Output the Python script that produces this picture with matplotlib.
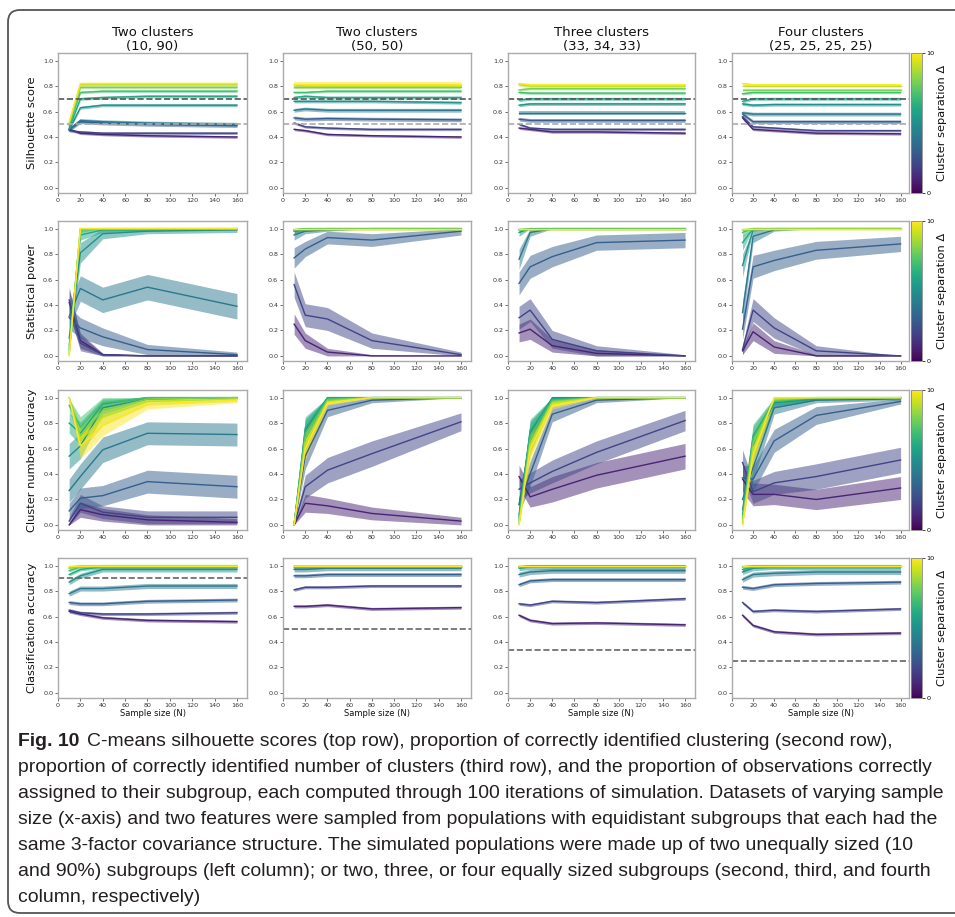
import numpy as np
import matplotlib
matplotlib.use("Agg")
import matplotlib.pyplot as plt
from matplotlib.colors import Normalize
from matplotlib.cm import ScalarMappable
from matplotlib.patches import FancyBboxPatch
from matplotlib.transforms import IdentityTransform
import matplotlib.font_manager as fm

# ---------------------------------------------------------------- data
sample_sizes = [10, 20, 40, 80, 160]
separations = [1, 2, 3, 4, 5, 6, 7, 8, 9, 10]
col_titles = ["Two clusters\n(10, 90)", "Two clusters\n(50, 50)",
              "Three clusters\n(33, 34, 33)", "Four clusters\n(25, 25, 25, 25)"]
row_labels = ["Silhouette score", "Statistical power",
              "Cluster number accuracy", "Classification accuracy"]
x_ticks = [0, 20, 40, 60, 80, 100, 120, 140, 160]
y_ticks = [0.0, 0.2, 0.4, 0.6, 0.8, 1.0]
silhouette_refs = [0.7, 0.5]
chance_levels = [0.9, 0.5, 0.34, 0.25]

# Silhouette score (rows = separation 1..10, cols = sample sizes)
sil_10_90 = [[0.46, 0.43, 0.42, 0.41, 0.40], [0.45, 0.44, 0.43, 0.43, 0.43],
             [0.46, 0.52, 0.51, 0.50, 0.49], [0.46, 0.53, 0.52, 0.51, 0.50],
             [0.46, 0.63, 0.65, 0.65, 0.65], [0.47, 0.70, 0.71, 0.72, 0.72],
             [0.49, 0.75, 0.76, 0.76, 0.76], [0.50, 0.79, 0.79, 0.79, 0.79],
             [0.51, 0.81, 0.81, 0.81, 0.81], [0.52, 0.82, 0.82, 0.82, 0.82]]
sil_50_50 = [[0.46, 0.45, 0.42, 0.41, 0.40], [0.51, 0.48, 0.47, 0.46, 0.46],
             [0.55, 0.54, 0.545, 0.54, 0.535], [0.61, 0.62, 0.61, 0.61, 0.61],
             [0.68, 0.68, 0.68, 0.68, 0.67], [0.71, 0.72, 0.71, 0.71, 0.71],
             [0.75, 0.75, 0.76, 0.76, 0.76], [0.79, 0.79, 0.79, 0.79, 0.79],
             [0.81, 0.80, 0.80, 0.80, 0.80], [0.82, 0.82, 0.82, 0.82, 0.82]]
sil_3 = [[0.47, 0.46, 0.44, 0.44, 0.43], [0.50, 0.47, 0.46, 0.46, 0.46],
         [0.54, 0.53, 0.53, 0.53, 0.53], [0.59, 0.59, 0.59, 0.59, 0.59],
         [0.65, 0.66, 0.66, 0.66, 0.66], [0.69, 0.70, 0.70, 0.70, 0.70],
         [0.75, 0.745, 0.745, 0.745, 0.745], [0.77, 0.78, 0.78, 0.78, 0.78],
         [0.81, 0.80, 0.80, 0.80, 0.80], [0.82, 0.81, 0.81, 0.81, 0.81]]
sil_4 = [[0.55, 0.46, 0.45, 0.43, 0.425], [0.56, 0.48, 0.47, 0.45, 0.45],
         [0.58, 0.52, 0.52, 0.52, 0.52], [0.59, 0.58, 0.58, 0.58, 0.58],
         [0.66, 0.65, 0.655, 0.655, 0.655], [0.68, 0.70, 0.70, 0.70, 0.70],
         [0.74, 0.75, 0.75, 0.75, 0.75], [0.77, 0.77, 0.77, 0.77, 0.77],
         [0.80, 0.80, 0.80, 0.80, 0.80], [0.82, 0.81, 0.81, 0.81, 0.81]]
sil_ci = [0.01, 0.01, 0.015, 0.015, 0.012, 0.012, 0.01, 0.01, 0.01, 0.01]

# Statistical power
pow_10_90 = [[0.42, 0.12, 0.01, 0.0, 0.0], [0.44, 0.10, 0.01, 0.0, 0.0],
             [0.30, 0.22, 0.15, 0.05, 0.01], [0.31, 0.53, 0.44, 0.54, 0.39],
             [0.14, 0.81, 0.96, 0.98, 0.99], [0.08, 0.95, 0.99, 0.99, 1.0],
             [0.05, 0.99, 1.0, 1.0, 1.0], [0.03, 1.0, 1.0, 1.0, 1.0],
             [0.01, 1.0, 1.0, 1.0, 1.0], [0.0, 1.0, 1.0, 1.0, 1.0]]
pow_10_90_ci = [[0.10, 0.06, 0.01, 0.0, 0.0], [0.10, 0.06, 0.01, 0.0, 0.0],
                [0.09, 0.08, 0.07, 0.04, 0.02], [0.09, 0.10, 0.10, 0.10, 0.10],
                [0.07, 0.08, 0.04, 0.02, 0.02], [0.05, 0.04, 0.02, 0.01, 0.0],
                [0.04, 0.02, 0.0, 0.0, 0.0], [0.03, 0.0, 0.0, 0.0, 0.0],
                [0.02, 0.0, 0.0, 0.0, 0.0], [0.0, 0.0, 0.0, 0.0, 0.0]]
pow_50_50 = [[0.25, 0.12, 0.03, 0.0, 0.0], [0.56, 0.32, 0.29, 0.12, 0.01],
             [0.77, 0.84, 0.93, 0.91, 0.98], [0.95, 0.98, 0.99, 1.0, 1.0],
             [0.98, 0.99, 1.0, 1.0, 1.0], [0.99, 1.0, 1.0, 1.0, 1.0],
             [0.99, 1.0, 1.0, 1.0, 1.0], [1.0, 1.0, 1.0, 1.0, 1.0],
             [1.0, 1.0, 1.0, 1.0, 1.0], [1.0, 1.0, 1.0, 1.0, 1.0]]
pow_50_50_ci = [[0.08, 0.06, 0.03, 0.01, 0.0], [0.10, 0.09, 0.09, 0.06, 0.02],
                [0.08, 0.06, 0.05, 0.05, 0.03], [0.04, 0.02, 0.01, 0.0, 0.0],
                [0.02, 0.01, 0.0, 0.0, 0.0], [0.01, 0.0, 0.0, 0.0, 0.0],
                [0.01, 0.0, 0.0, 0.0, 0.0], [0.0, 0.0, 0.0, 0.0, 0.0],
                [0.0, 0.0, 0.0, 0.0, 0.0], [0.0, 0.0, 0.0, 0.0, 0.0]]
pow_3 = [[0.18, 0.21, 0.08, 0.02, 0.0], [0.30, 0.36, 0.13, 0.04, 0.0],
         [0.57, 0.70, 0.78, 0.89, 0.91], [0.76, 0.97, 1.0, 1.0, 1.0],
         [0.97, 1.0, 1.0, 1.0, 1.0], [0.99, 1.0, 1.0, 1.0, 1.0],
         [1.0, 1.0, 1.0, 1.0, 1.0], [1.0, 1.0, 1.0, 1.0, 1.0],
         [1.0, 1.0, 1.0, 1.0, 1.0], [1.0, 1.0, 1.0, 1.0, 1.0]]
pow_3_ci = [[0.07, 0.08, 0.05, 0.03, 0.0], [0.09, 0.09, 0.07, 0.04, 0.01],
            [0.09, 0.09, 0.08, 0.06, 0.06], [0.08, 0.03, 0.0, 0.0, 0.0],
            [0.03, 0.0, 0.0, 0.0, 0.0], [0.01, 0.0, 0.0, 0.0, 0.0],
            [0.0, 0.0, 0.0, 0.0, 0.0], [0.0, 0.0, 0.0, 0.0, 0.0],
            [0.0, 0.0, 0.0, 0.0, 0.0], [0.0, 0.0, 0.0, 0.0, 0.0]]
pow_4 = [[0.04, 0.19, 0.07, 0.0, 0.0], [0.05, 0.36, 0.22, 0.04, 0.0],
         [0.21, 0.70, 0.75, 0.83, 0.88], [0.34, 0.94, 0.99, 1.0, 1.0],
         [0.71, 0.99, 1.0, 1.0, 1.0], [0.89, 1.0, 1.0, 1.0, 1.0],
         [0.97, 1.0, 1.0, 1.0, 1.0], [0.99, 1.0, 1.0, 1.0, 1.0],
         [1.0, 1.0, 1.0, 1.0, 1.0], [1.0, 1.0, 1.0, 1.0, 1.0]]
pow_4_ci = [[0.03, 0.07, 0.05, 0.01, 0.0], [0.04, 0.09, 0.08, 0.04, 0.0],
            [0.08, 0.09, 0.08, 0.07, 0.06], [0.09, 0.05, 0.01, 0.0, 0.0],
            [0.09, 0.01, 0.0, 0.0, 0.0], [0.06, 0.0, 0.0, 0.0, 0.0],
            [0.03, 0.0, 0.0, 0.0, 0.0], [0.01, 0.0, 0.0, 0.0, 0.0],
            [0.0, 0.0, 0.0, 0.0, 0.0], [0.0, 0.0, 0.0, 0.0, 0.0]]

# Cluster number accuracy
cna_10_90 = [[0.0, 0.12, 0.08, 0.04, 0.02], [0.03, 0.17, 0.10, 0.06, 0.06],
             [0.11, 0.21, 0.23, 0.34, 0.30], [0.27, 0.38, 0.59, 0.72, 0.71],
             [0.54, 0.62, 0.92, 0.99, 1.0], [0.80, 0.72, 0.95, 1.0, 1.0],
             [0.94, 0.77, 0.96, 1.0, 1.0], [1.0, 0.70, 0.90, 0.99, 1.0],
             [1.0, 0.66, 0.85, 0.97, 0.99], [1.0, 0.62, 0.78, 0.95, 0.98]]
cna_10_90_ci = [[0.01, 0.06, 0.05, 0.04, 0.03], [0.03, 0.07, 0.05, 0.05, 0.05],
                [0.06, 0.08, 0.08, 0.09, 0.09], [0.09, 0.10, 0.10, 0.09, 0.09],
                [0.10, 0.10, 0.05, 0.01, 0.0], [0.08, 0.09, 0.04, 0.01, 0.0],
                [0.05, 0.08, 0.04, 0.01, 0.0], [0.0, 0.09, 0.06, 0.02, 0.01],
                [0.0, 0.09, 0.07, 0.03, 0.02], [0.0, 0.10, 0.08, 0.04, 0.02]]
cna_50_50 = [[0.0, 0.17, 0.15, 0.09, 0.03], [0.0, 0.30, 0.43, 0.56, 0.81],
             [0.0, 0.54, 0.90, 0.98, 1.0], [0.0, 0.68, 0.98, 1.0, 1.0],
             [0.0, 0.74, 1.0, 1.0, 1.0], [0.0, 0.76, 1.0, 1.0, 1.0],
             [0.0, 0.72, 0.99, 1.0, 1.0], [0.0, 0.68, 0.98, 1.0, 1.0],
             [0.0, 0.64, 0.97, 1.0, 1.0], [0.0, 0.60, 0.96, 1.0, 1.0]]
cna_50_50_ci = [[0.0, 0.07, 0.06, 0.05, 0.03], [0.0, 0.09, 0.10, 0.10, 0.07],
                [0.0, 0.10, 0.05, 0.02, 0.0], [0.0, 0.09, 0.02, 0.0, 0.0],
                [0.0, 0.09, 0.01, 0.0, 0.0], [0.0, 0.09, 0.02, 0.0, 0.0],
                [0.0, 0.09, 0.02, 0.0, 0.0], [0.0, 0.09, 0.02, 0.0, 0.0],
                [0.0, 0.09, 0.02, 0.0, 0.0], [0.0, 0.09, 0.02, 0.0, 0.0]]
cna_3 = [[0.38, 0.22, 0.28, 0.39, 0.54], [0.28, 0.33, 0.42, 0.57, 0.82],
         [0.16, 0.40, 0.87, 0.98, 1.0], [0.16, 0.66, 0.99, 1.0, 1.0],
         [0.08, 0.72, 1.0, 1.0, 1.0], [0.06, 0.74, 0.99, 1.0, 1.0],
         [0.04, 0.70, 0.98, 1.0, 1.0], [0.02, 0.66, 0.97, 1.0, 1.0],
         [0.01, 0.63, 0.96, 1.0, 1.0], [0.0, 0.60, 0.94, 1.0, 1.0]]
cna_3_ci = [[0.09, 0.08, 0.10, 0.10, 0.10], [0.08, 0.08, 0.09, 0.09, 0.08],
            [0.06, 0.10, 0.06, 0.02, 0.0], [0.06, 0.09, 0.01, 0.0, 0.0],
            [0.05, 0.09, 0.01, 0.0, 0.0], [0.03, 0.09, 0.03, 0.0, 0.0],
            [0.03, 0.09, 0.03, 0.0, 0.0], [0.02, 0.09, 0.03, 0.0, 0.0],
            [0.01, 0.09, 0.03, 0.0, 0.0], [0.0, 0.09, 0.03, 0.0, 0.0]]
cna_4 = [[0.36, 0.24, 0.24, 0.20, 0.29], [0.49, 0.26, 0.33, 0.38, 0.51],
         [0.37, 0.36, 0.66, 0.86, 0.97], [0.20, 0.45, 0.92, 0.98, 0.99],
         [0.12, 0.62, 0.96, 0.99, 1.0], [0.08, 0.70, 0.97, 0.99, 1.0],
         [0.05, 0.68, 0.97, 1.0, 1.0], [0.02, 0.64, 0.98, 1.0, 1.0],
         [0.01, 0.60, 0.99, 1.0, 1.0], [0.0, 0.55, 1.0, 1.0, 1.0]]
cna_4_ci = [[0.10, 0.09, 0.08, 0.08, 0.09], [0.10, 0.09, 0.09, 0.10, 0.10],
            [0.10, 0.10, 0.09, 0.07, 0.02], [0.08, 0.10, 0.05, 0.02, 0.01],
            [0.06, 0.10, 0.04, 0.01, 0.0], [0.05, 0.09, 0.03, 0.01, 0.0],
            [0.03, 0.09, 0.02, 0.0, 0.0], [0.02, 0.09, 0.02, 0.0, 0.0],
            [0.01, 0.09, 0.02, 0.0, 0.0], [0.0, 0.09, 0.02, 0.0, 0.0]]

# Classification accuracy
cla_10_90 = [[0.64, 0.62, 0.59, 0.57, 0.56], [0.65, 0.63, 0.62, 0.62, 0.63],
             [0.71, 0.70, 0.70, 0.72, 0.73], [0.78, 0.82, 0.82, 0.84, 0.84],
             [0.87, 0.92, 0.97, 0.97, 0.97], [0.93, 0.97, 0.99, 0.99, 0.99],
             [0.96, 0.99, 0.99, 0.99, 0.99], [0.98, 0.99, 1.0, 1.0, 1.0],
             [0.99, 1.0, 1.0, 1.0, 1.0], [1.0, 1.0, 1.0, 1.0, 1.0]]
cla_50_50 = [[0.68, 0.68, 0.69, 0.66, 0.67], [0.81, 0.83, 0.83, 0.84, 0.84],
             [0.92, 0.92, 0.93, 0.93, 0.93], [0.97, 0.97, 0.98, 0.98, 0.98],
             [0.99, 0.99, 0.99, 0.99, 0.99], [1.0, 1.0, 1.0, 1.0, 1.0],
             [1.0, 1.0, 1.0, 1.0, 1.0], [1.0, 1.0, 1.0, 1.0, 1.0],
             [1.0, 1.0, 1.0, 1.0, 1.0], [1.0, 1.0, 1.0, 1.0, 1.0]]
cla_3 = [[0.61, 0.57, 0.545, 0.55, 0.535], [0.70, 0.69, 0.72, 0.71, 0.74],
         [0.85, 0.88, 0.89, 0.89, 0.89], [0.93, 0.95, 0.96, 0.96, 0.96],
         [0.98, 0.99, 0.99, 0.99, 0.99], [0.99, 1.0, 1.0, 1.0, 1.0],
         [1.0, 1.0, 1.0, 1.0, 1.0], [1.0, 1.0, 1.0, 1.0, 1.0],
         [1.0, 1.0, 1.0, 1.0, 1.0], [1.0, 1.0, 1.0, 1.0, 1.0]]
cla_4 = [[0.61, 0.53, 0.48, 0.46, 0.47], [0.71, 0.64, 0.65, 0.64, 0.66],
         [0.83, 0.82, 0.85, 0.86, 0.87], [0.89, 0.93, 0.94, 0.95, 0.95],
         [0.95, 0.98, 0.99, 0.99, 0.99], [0.97, 0.99, 0.99, 0.99, 0.99],
         [0.99, 1.0, 1.0, 1.0, 1.0], [1.0, 1.0, 1.0, 1.0, 1.0],
         [1.0, 1.0, 1.0, 1.0, 1.0], [1.0, 1.0, 1.0, 1.0, 1.0]]
cla_ci = [0.012, 0.012, 0.015, 0.02, 0.02, 0.012, 0.01, 0.008, 0.005, 0.003]

caption_bold = "Fig. 10"
caption_lines = [
    "C-means silhouette scores (top row), proportion of correctly identified clustering (second row),",
    "proportion of correctly identified number of clusters (third row), and the proportion of observations correctly",
    "assigned to their subgroup, each computed through 100 iterations of simulation. Datasets of varying sample",
    "size (x-axis) and two features were sampled from populations with equidistant subgroups that each had the",
    "same 3-factor covariance structure. The simulated populations were made up of two unequally sized (10",
    "and 90%) subgroups (left column); or two, three, or four equally sized subgroups (second, third, and fourth",
    "column, respectively)",
]

panels = [
    [(sil_10_90, sil_ci), (sil_50_50, sil_ci), (sil_3, sil_ci), (sil_4, sil_ci)],
    [(pow_10_90, pow_10_90_ci), (pow_50_50, pow_50_50_ci), (pow_3, pow_3_ci), (pow_4, pow_4_ci)],
    [(cna_10_90, cna_10_90_ci), (cna_50_50, cna_50_50_ci), (cna_3, cna_3_ci), (cna_4, cna_4_ci)],
    [(cla_10_90, cla_ci), (cla_50_50, cla_ci), (cla_3, cla_ci), (cla_4, cla_ci)],
]

# ---------------------------------------------------------------- layout (pixels)
W, H = 955, 917
col_px = [(58, 247), (283, 471), (508, 695), (732, 909)]
row_px = [(53, 193), (221, 361), (390, 530), (558, 698)]
cbar_px = (911, 922)

fig = plt.figure(figsize=(W / 100, H / 100), dpi=100)
fig.patch.set_facecolor("white")

cmap = plt.get_cmap("viridis")
norm = Normalize(0, 10)

def frac_rect(x0, x1, y0, y1):
    return [x0 / W, 1 - y1 / H, (x1 - x0) / W, (y1 - y0) / H]

for r in range(4):
    for c in range(4):
        (x0, x1), (y0, y1) = col_px[c], row_px[r]
        ax = fig.add_axes(frac_rect(x0, x1, y0, y1))
        means, ci = panels[r][c]
        means = np.asarray(means, dtype=float)
        ci = np.asarray(ci, dtype=float)
        if ci.ndim == 1:
            ci = np.repeat(ci[:, None], means.shape[1], axis=1)
        for i, d in enumerate(separations):
            colr = cmap(norm(d))
            lo = np.clip(means[i] - ci[i], 0, 1)
            hi = np.clip(means[i] + ci[i], 0, 1)
            ax.fill_between(sample_sizes, lo, hi, color=colr, alpha=0.5, lw=0)
            ax.plot(sample_sizes, means[i], color=colr, lw=1.0)
        if r == 0:
            ax.axhline(silhouette_refs[0], color="#555555", ls="--", lw=1.2)
            ax.axhline(silhouette_refs[1], color="#aaaaaa", ls="--", lw=1.2)
        if r == 3:
            ax.axhline(chance_levels[c], color="#666666", ls="--", lw=1.2)
        ax.set_xlim(0, 169 if c < 3 else 168)
        ax.set_ylim(-0.04, 1.06)
        ax.set_xticks(x_ticks)
        ax.set_yticks(y_ticks)
        ax.set_yticklabels([f"{v:.1f}" for v in y_ticks])
        ax.tick_params(labelsize=4.6, length=2, width=0.5, pad=1.5, colors="#333333")
        for s in ax.spines.values():
            s.set_color("#aaaaaa")
            s.set_linewidth(1.0)
        if r == 0:
            ax.set_title(col_titles[c], fontsize=9.5, pad=1, linespacing=1.05, color="#111111")
        if c == 0:
            ax.set_ylabel(row_labels[r], fontsize=8.2, labelpad=4, color="#111111")
        if r == 3:
            ax.set_xlabel("Sample size (N)", fontsize=6, labelpad=1, color="#111111")
    # colorbar
    cax = fig.add_axes(frac_rect(cbar_px[0], cbar_px[1], row_px[r][0], row_px[r][1]))
    cb = fig.colorbar(ScalarMappable(norm=norm, cmap=cmap), cax=cax)
    cb.set_ticks([0, 10])
    cb.ax.tick_params(labelsize=4.6, length=2, width=0.5, pad=1)
    cb.outline.set_edgecolor("#888888")
    cb.outline.set_linewidth(0.6)
    cb.set_label("Cluster separation Δ", fontsize=8.2, labelpad=2, color="#111111")

# rounded frame around figure + caption
frame = FancyBboxPatch((8, H - 913), 1100, 903, boxstyle="round,pad=0,rounding_size=12",
                       transform=IdentityTransform(), fill=False, edgecolor="#555555", lw=1.3)
fig.add_artist(frame)

names = {f.name for f in fm.fontManager.ttflist}
cap_family = "Liberation Sans Narrow" if "Liberation Sans Narrow" in names else "Liberation Sans"
renderer = fig.canvas.get_renderer()
widths = []
for line in caption_lines[1:]:
    probe = fig.text(0, 0, line, fontsize=12, family=cap_family)
    widths.append(probe.get_window_extent(renderer).width)
    probe.remove()
cap_size = 12 * 925 / max(widths)

line_centers = [740, 766, 791, 817, 843, 869, 895]
x_left = 18
bold = fig.text(x_left / W, 1 - line_centers[0] / H, caption_bold, fontsize=cap_size,
                family=cap_family, weight="bold", va="center_baseline", color="#231f20")
bw = bold.get_window_extent(renderer).width
for i, line in enumerate(caption_lines):
    xs = x_left + (bw + 8 if i == 0 else 0)
    fig.text(xs / W, 1 - line_centers[i] / H, line, fontsize=cap_size,
             family=cap_family, va="center_baseline", color="#231f20")

fig.savefig("out.png", dpi=100)
